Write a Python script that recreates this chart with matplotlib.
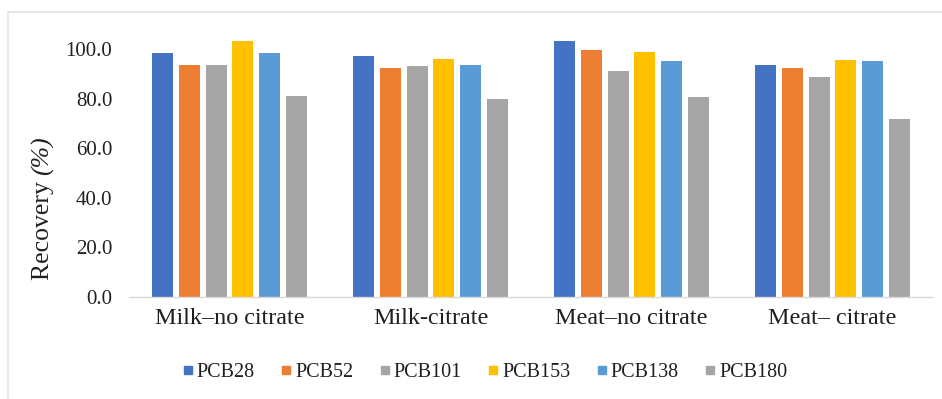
import matplotlib
matplotlib.use("Agg")
import matplotlib.pyplot as plt
import numpy as np
from matplotlib.lines import Line2D

# recovery (%) per congener, one list per sample type
categories = ["Milk\u2013no citrate", "Milk-citrate", "Meat\u2013no citrate", "Meat\u2013 citrate"]
congeners = ["PCB28", "PCB52", "PCB101", "PCB153", "PCB138", "PCB180"]
pcb28 = [98.5, 97.3, 103.3, 93.5]
pcb52 = [93.5, 92.2, 99.6, 92.2]
pcb101 = [93.5, 93.1, 91.1, 88.8]
pcb153 = [103.3, 95.8, 98.7, 95.6]
pcb138 = [98.5, 93.5, 95.0, 95.0]
pcb180 = [81.0, 79.7, 80.8, 71.6]
y_ticks = [0, 20, 40, 60, 80, 100]

series = [pcb28, pcb52, pcb101, pcb153, pcb138, pcb180]
colors = ["#4472C4", "#ED7D31", "#A5A5A5", "#FFC000", "#5B9BD5", "#A5A5A5"]

plt.rcParams["font.family"] = ["Liberation Serif", "DejaVu Serif"]
text_color = "#202020"

W, H = 942, 399
fig = plt.figure(figsize=(W / 100, H / 100), dpi=100)

# plot area in pixel terms: baseline at y=297, 2.48 px per percent
ymax = 106
left, right, base = 129, 933, 297
top = base - ymax * 2.48
ax = fig.add_axes([left / W, 1 - base / H, (right - left) / W, (base - top) / H])

x = np.arange(len(categories))
pitch = 0.1333
width = 0.1045
for i, (vals, c) in enumerate(zip(series, colors)):
    ax.bar(x + (i - 2.5) * pitch, vals, width=width, color=c, zorder=2)

ax.set_xlim(-0.5, len(categories) - 0.5)
ax.set_ylim(0, ymax)
ax.set_yticks(y_ticks)
ax.set_yticklabels([f"{v:.1f}" for v in y_ticks], fontsize=15, color=text_color)
ax.set_xticks(x)
ax.set_xticklabels(categories, fontsize=17.4, color=text_color)
ax.tick_params(axis="y", length=0, pad=12)
ax.tick_params(axis="x", length=0, pad=8)

for side in ["top", "right", "left"]:
    ax.spines[side].set_visible(False)
ax.spines["bottom"].set_color("#D9D9D9")
ax.spines["bottom"].set_linewidth(1.0)

# y label: upright word followed by an italic unit, stacked along the rotated baseline
renderer = fig.canvas.get_renderer()
word = fig.text(43 / W, 1 - 280 / H, "Recovery ", rotation=90, rotation_mode="anchor",
                ha="left", va="center", fontsize=18.5, color=text_color)
word_top = word.get_window_extent(renderer).y1
fig.text(43 / W, word_top / fig.bbox.height, "(%)", rotation=90, rotation_mode="anchor",
         ha="left", va="center", fontsize=18.5, style="italic", color=text_color)

handles = [Line2D([], [], marker="s", linestyle="none", markersize=6,
                  markerfacecolor=c, markeredgecolor=c) for c in colors]
fig.legend(handles, congeners, loc="center", bbox_to_anchor=(485 / W, 1 - 372 / H),
           ncol=6, frameon=False, fontsize=14.5, handlelength=0.5,
           handletextpad=0.2, columnspacing=1.3, labelcolor=text_color)

# light chart-area border (left and top edges)
fig.add_artist(Line2D([8 / W, 8 / W], [0, 1 - 12 / H], color="#E3E3E3", lw=1.2,
                      transform=fig.transFigure))
fig.add_artist(Line2D([8 / W, 1], [1 - 12 / H, 1 - 12 / H], color="#E3E3E3", lw=1.2,
                      transform=fig.transFigure))

fig.savefig("out.png", dpi=100)
